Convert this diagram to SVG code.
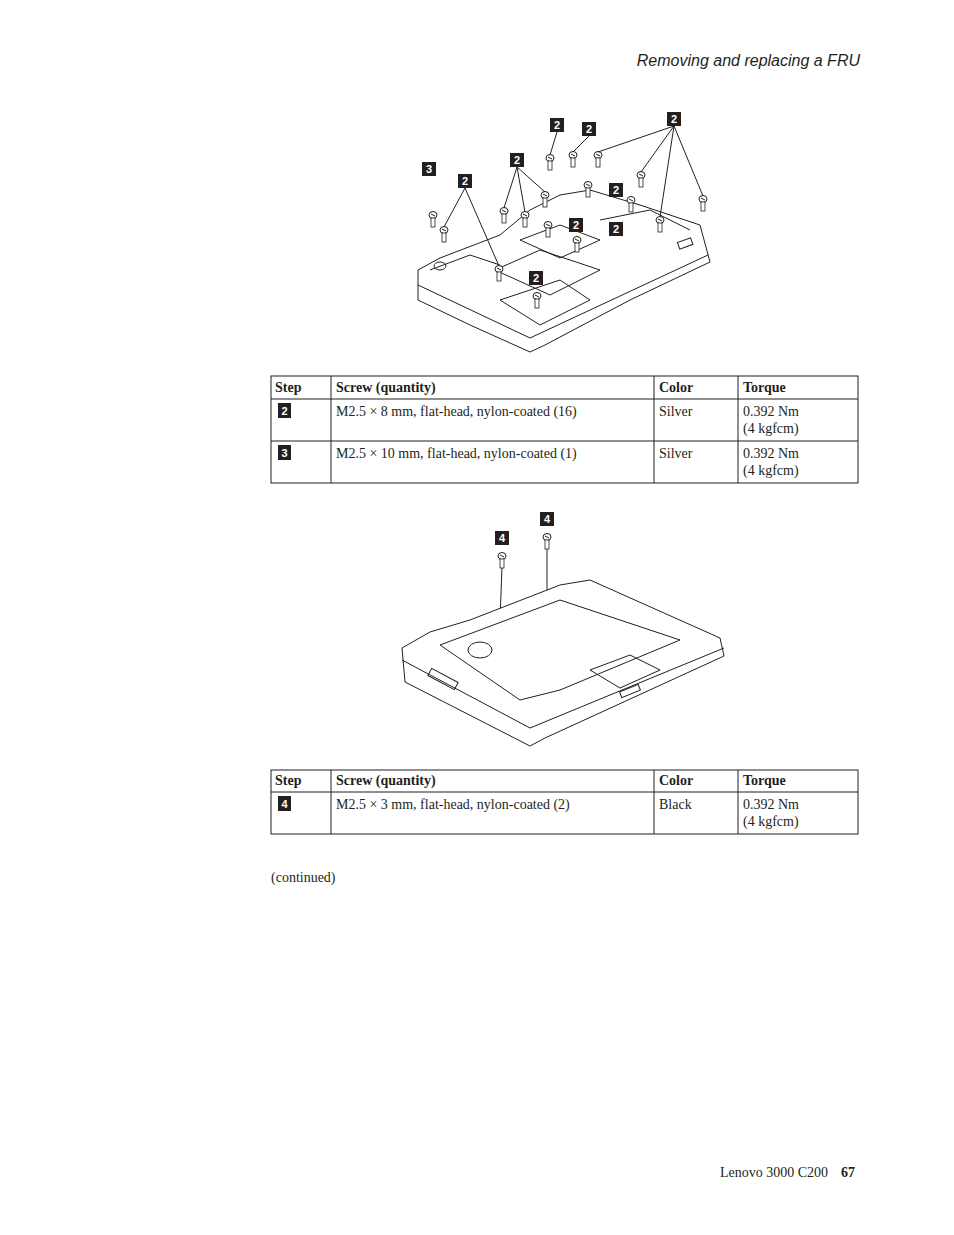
<svg xmlns="http://www.w3.org/2000/svg" width="954" height="1235" viewBox="0 0 954 1235">
<defs>
<style>
.t{font-family:"Liberation Serif",serif;font-size:14px;fill:#231f20}
.b{font-weight:bold}
.cell{fill:none;stroke:#231f20;stroke-width:1}
.lb{fill:#231f20}
.lt{font-family:"Liberation Sans",sans-serif;font-size:11px;font-weight:bold;fill:#fff;text-anchor:middle}
.ln{stroke:#231f20;stroke-width:1;fill:none}
.art{fill:#fff;stroke:#231f20;stroke-width:1}
</style>
<g id="screw"><ellipse cx="0" cy="0" rx="4" ry="3.5" fill="#fff" stroke="#231f20"/><line x1="-2" y1="-1" x2="2" y2="1" stroke="#231f20"/><rect x="-2" y="3" width="4" height="9" fill="#fff" stroke="#231f20" stroke-width="0.8"/></g>
</defs>
<rect width="954" height="1235" fill="#fff"/>
<text x="860" y="66" text-anchor="end" font-family="Liberation Sans,sans-serif" font-style="italic" font-size="16" fill="#231f20">Removing and replacing a FRU</text>

<g id="laptop1">
<path class="art" d="M418,270 L440,258 L500,235 L530,210 L560,195 L590,190 L640,205 L700,225 L710,262 L630,300 L545,345 L530,352 L470,325 L418,300 Z"/>
<path class="ln" d="M418,285 L530,338 L708,255"/>
<path class="ln" d="M495,270 L540,250 L600,270 L550,295 Z M500,300 L560,280 L590,300 L540,325 Z M520,240 L560,225 L600,240 L560,258 Z"/>
<path class="ln" d="M430,270 L470,255 L500,265 M600,220 L650,210 L690,230"/>
<rect x="678" y="240" width="14" height="7" class="ln" transform="rotate(-20 685 243)"/>
<ellipse cx="440" cy="266" rx="6" ry="4" class="ln"/>
</g>
<g id="screws1">
<use href="#screw" x="433" y="215"/><use href="#screw" x="444" y="230"/><use href="#screw" x="499" y="269"/>
<use href="#screw" x="504" y="211"/><use href="#screw" x="525" y="215"/><use href="#screw" x="545" y="195"/>
<use href="#screw" x="550" y="158"/><use href="#screw" x="573" y="155"/><use href="#screw" x="598" y="155"/>
<use href="#screw" x="588" y="185"/><use href="#screw" x="631" y="200"/><use href="#screw" x="641" y="175"/>
<use href="#screw" x="703" y="199"/><use href="#screw" x="660" y="220"/><use href="#screw" x="577" y="240"/>
<use href="#screw" x="537" y="296"/><use href="#screw" x="548" y="225"/>
</g>
<g id="connectors">
<path class="ln" d="M465,188 L444,227 M465,188 L499,266 M517,167 L504,208 M517,167 L525,212 M517,167 L545,192 M557,132 L550,155 M589,136 L573,152 M674,126 L598,152 M674,126 L641,172 M674,126 L660,217 M674,126 L703,196"/>
<path class="ln" d="M502,567 L500,620 M547,540 L547,600"/>
</g>
<g id="labels">
<rect class="lb" x="422" y="162" width="14" height="14"/><text class="lt" x="429" y="173">3</text>
<rect class="lb" x="458" y="174" width="14" height="14"/><text class="lt" x="465" y="185">2</text>
<rect class="lb" x="510" y="153" width="14" height="14"/><text class="lt" x="517" y="164">2</text>
<rect class="lb" x="550" y="118" width="14" height="14"/><text class="lt" x="557" y="129">2</text>
<rect class="lb" x="582" y="122" width="14" height="14"/><text class="lt" x="589" y="133">2</text>
<rect class="lb" x="667" y="112" width="14" height="14"/><text class="lt" x="674" y="123">2</text>
<rect class="lb" x="609" y="183" width="14" height="14"/><text class="lt" x="616" y="194">2</text>
<rect class="lb" x="569" y="218" width="14" height="14"/><text class="lt" x="576" y="229">2</text>
<rect class="lb" x="609" y="222" width="14" height="14"/><text class="lt" x="616" y="233">2</text>
<rect class="lb" x="529" y="271" width="14" height="14"/><text class="lt" x="536" y="282">2</text>
<rect class="lb" x="495" y="531" width="14" height="14"/><text class="lt" x="502" y="542">4</text>
<rect class="lb" x="540" y="512" width="14" height="14"/><text class="lt" x="547" y="523">4</text>
</g>

<g id="table1">
<rect class="cell" x="271" y="376" width="587" height="107"/>
<path class="ln" d="M271,399 H858 M271,441 H858 M331,376 V483 M654,376 V483 M738,376 V483"/>
<text class="t b" x="275" y="392">Step</text><text class="t b" x="336" y="392">Screw (quantity)</text><text class="t b" x="659" y="392">Color</text><text class="t b" x="743" y="392">Torque</text>
<rect class="lb" x="278" y="403" width="13" height="15"/><text class="lt" x="284.5" y="415">2</text>
<text class="t" x="336" y="416">M2.5 × 8 mm, flat-head, nylon-coated (16)</text><text class="t" x="659" y="416">Silver</text><text class="t" x="743" y="416">0.392 Nm</text><text class="t" x="743" y="433">(4 kgfcm)</text>
<rect class="lb" x="278" y="445" width="13" height="15"/><text class="lt" x="284.5" y="457">3</text>
<text class="t" x="336" y="458">M2.5 × 10 mm, flat-head, nylon-coated (1)</text><text class="t" x="659" y="458">Silver</text><text class="t" x="743" y="458">0.392 Nm</text><text class="t" x="743" y="475">(4 kgfcm)</text>
</g>

<g id="laptop2">
<path class="art" d="M402,648 L430,632 L470,620 L560,585 L590,580 L720,638 L724,656 L545,738 L530,746 L405,682 Z"/>
<path class="ln" d="M402,660 L530,728 L724,648"/>
<path class="ln" d="M440,645 L560,600 L680,640 L560,690 L520,700 Z"/>
<path class="ln" d="M590,670 L630,655 L660,670 L620,688 Z"/>
<rect x="428" y="675" width="30" height="8" class="ln" transform="rotate(28 443 679)"/>
<rect x="620" y="688" width="20" height="6" class="ln" transform="rotate(-22 630 691)"/>
<ellipse cx="480" cy="650" rx="12" ry="8" class="ln"/>
<use href="#screw" x="502" y="556"/><use href="#screw" x="547" y="537"/>
</g>

<g id="table2">
<rect class="cell" x="271" y="770" width="587" height="64"/>
<path class="ln" d="M271,792 H858 M331,770 V834 M654,770 V834 M738,770 V834"/>
<text class="t b" x="275" y="785">Step</text><text class="t b" x="336" y="785">Screw (quantity)</text><text class="t b" x="659" y="785">Color</text><text class="t b" x="743" y="785">Torque</text>
<rect class="lb" x="278" y="796" width="13" height="15"/><text class="lt" x="284.5" y="808">4</text>
<text class="t" x="336" y="809">M2.5 × 3 mm, flat-head, nylon-coated (2)</text><text class="t" x="659" y="809">Black</text><text class="t" x="743" y="809">0.392 Nm</text><text class="t" x="743" y="826">(4 kgfcm)</text>
</g>

<text class="t" x="271" y="882">(continued)</text>
<text class="t" x="720" y="1177" font-size="13">Lenovo 3000 C200</text>
<text class="t b" x="841" y="1177" font-size="17">67</text>
</svg>
